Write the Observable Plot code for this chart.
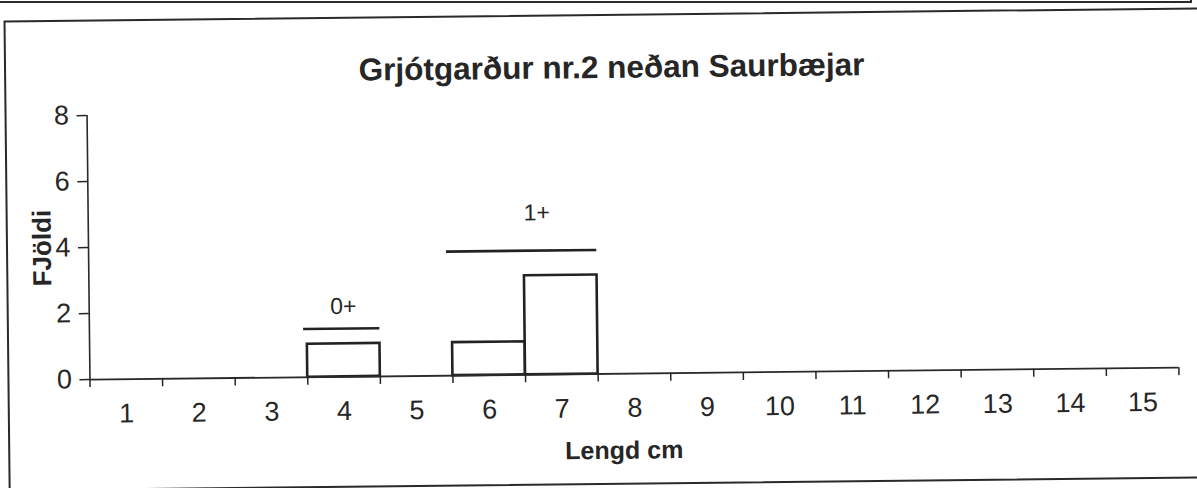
<!DOCTYPE html>
<html>
<head>
<meta charset="utf-8">
<script src="https://cdn.jsdelivr.net/npm/d3@7"></script>
<script src="https://cdn.jsdelivr.net/npm/@observablehq/plot@0.6"></script>
<style>
  html, body { margin: 0; padding: 0; background: #fff; overflow: hidden; }
  body { position: relative; width: 1197px; height: 488px; font-family: "Liberation Sans", Arial, Helvetica, sans-serif; color: #262626; }
  #page { position: relative; width: 1197px; height: 488px; transform: rotate(-0.63deg); transform-origin: 598px 244px; }
  .frame { position: absolute; left: 6px; top: 13.5px; width: 1300px; height: 467px; border: 2px solid #2a2a2a; }
  .prev { position: absolute; left: -10px; top: -10px; width: 1200px; height: 11px; border-bottom: 2px solid #2a2a2a; border-right: 2px solid #2a2a2a; }
  #chart { position: absolute; left: 0; top: 0; width: 1197px; }
  #title { box-sizing: border-box; width: 1197px; height: 80px; padding-top: 54px; padding-left: 30px; text-align: center; font-size: 31.5px; line-height: 26px; font-weight: bold; color: #262626; white-space: nowrap; }
  svg { display: block; }
</style>
</head>
<body>
<div class="prev"></div>
<div id="page">
  <div class="frame"></div>
  <div id="chart">
    <div id="title"></div>
  </div>
</div>
<script>
// ---- data ----
const chartTitle = "Grjótgarður nr.2 neðan Saurbæjar";
const xLabel = "Lengd cm";
const yLabel = "FJöldi";
const lengths = [1, 2, 3, 4, 5, 6, 7, 8, 9, 10, 11, 12, 13, 14, 15];
const counts  = [0, 0, 0, 1, 0, 1, 3, 0, 0, 0, 0, 0, 0, 0, 0];
const yTicks = [0, 2, 4, 6, 8];
// age-group annotations (length range, bar level, label)
const groupNames  = ["0+", "1+"];
const groupStart  = [3.45, 5.43];
const groupEnd    = [4.5, 7.5];
const groupLevel  = [1.46, 3.76];
const groupLabelX = [4.0, 6.68];
const groupLabelY = [2.13, 4.9];

const bins = lengths.map((len, i) => ({len, count: counts[i]}));
const edges = lengths.map(d => d - 0.5).concat([lengths[lengths.length - 1] + 0.5]);
const groups = groupNames.map((name, i) => ({
  name, x1: groupStart[i], x2: groupEnd[i], level: groupLevel[i], lx: groupLabelX[i], ly: groupLabelY[i]
}));

document.getElementById("title").textContent = chartTitle;

const ink = "#262626";
const chart = Plot.plot({
  width: 1197,
  height: 408,
  marginLeft: 88,
  marginRight: 20,
  marginTop: 29.5,
  marginBottom: 114.5,
  style: {fontFamily: '"Liberation Sans", Arial, Helvetica, sans-serif', fontSize: "27px", color: ink, background: "transparent", overflow: "visible"},
  x: {domain: [0.5, 15.5]},
  y: {domain: [0, 8]},
  marks: [
    Plot.rect(bins.filter(d => d.count > 0), {
      x1: d => d.len - 0.5, x2: d => d.len + 0.5, y1: 0, y2: "count",
      fill: "white", stroke: "#222", strokeWidth: 2.6
    }),
    Plot.ruleY([0], {x1: 0.5, x2: 15.5, stroke: "#2a2a2a", strokeWidth: 1.8}),
    Plot.ruleX([0.5], {y1: 0, y2: 8, stroke: "#2a2a2a", strokeWidth: 1.6}),
    Plot.axisY({ticks: yTicks, tickSize: 10, tickPadding: 8, fontSize: 27, label: null, strokeWidth: 1.5, tickFormat: d => String(d)}),
    Plot.axisX({ticks: edges, tickSize: 8, tickFormat: () => "", label: null, strokeWidth: 1.5}),
    Plot.axisX({ticks: lengths, tickSize: 0, tickPadding: 24, fontSize: 27, label: null, tickFormat: d => String(d)}),
    Plot.ruleY(groups, {y: "level", x1: "x1", x2: "x2", stroke: "#222", strokeWidth: 2.6}),
    Plot.text(groups, {x: "lx", y: "ly", text: "name", fontSize: 23, fill: ink}),
    Plot.text([yLabel], {text: d => d, frameAnchor: "left", dx: -46, rotate: -90, textAnchor: "middle", lineAnchor: "middle", fontSize: 26, fontWeight: "bold", fill: ink}),
    Plot.text([xLabel], {text: d => d, frameAnchor: "bottom", dx: -11, dy: 77, textAnchor: "middle", lineAnchor: "middle", fontSize: 25, fontWeight: "bold", fill: ink})
  ]
});
document.getElementById("chart").appendChild(chart);
</script>
</body>
</html>
